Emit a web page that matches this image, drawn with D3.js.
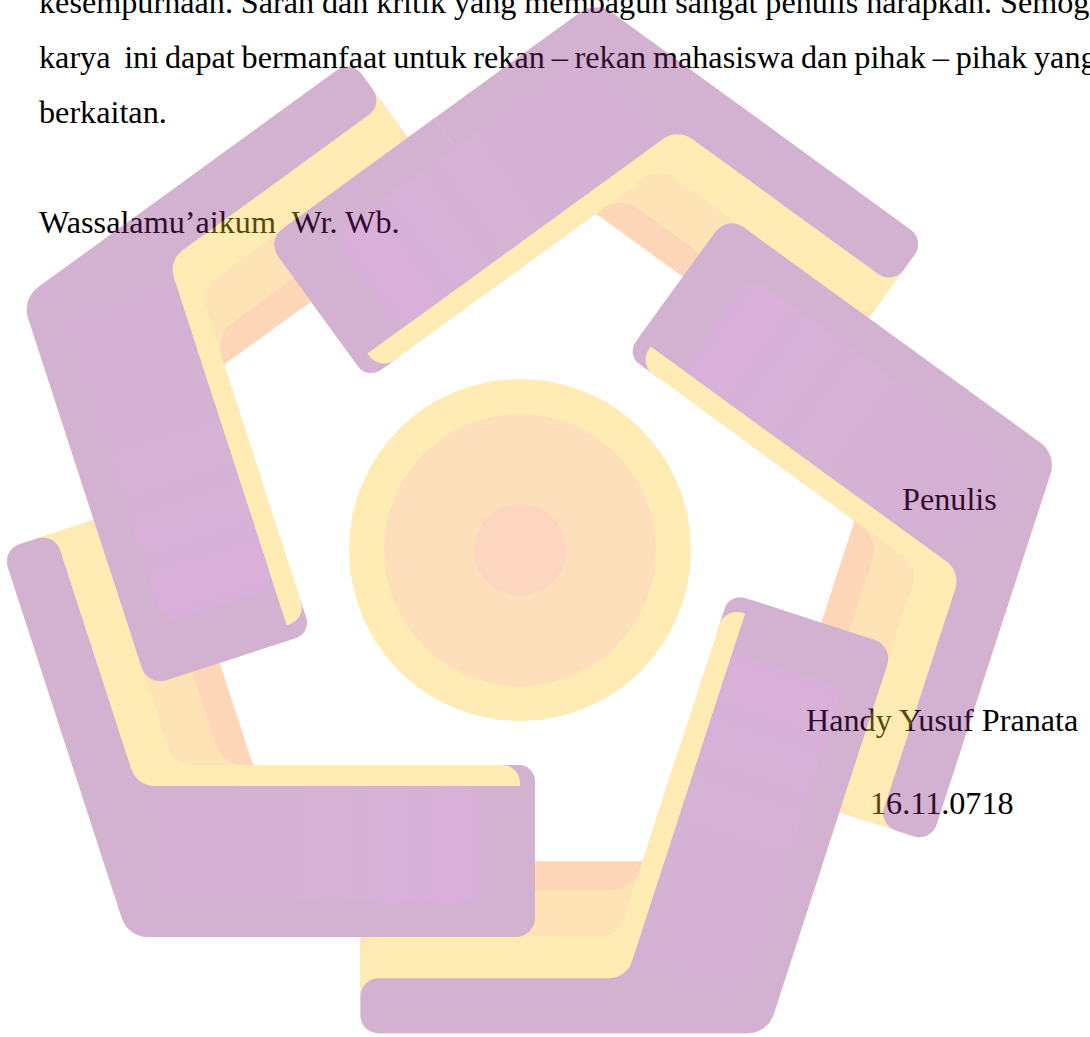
<!DOCTYPE html>
<html>
<head>
<meta charset="utf-8">
<script src="https://cdn.jsdelivr.net/npm/d3@7"></script>
<style>
  html, body { margin: 0; padding: 0; background: #fff; }
  svg { display: block; }
  text { font-family: "Liberation Serif", "Times New Roman", serif; font-size: 32.2px; fill: #000; white-space: pre; }
</style>
</head>
<body>
<div id="page"></div>
<script>
var width = 1090, height = 1037;

// page text
var bodyLines = [
	"kesempurnaan. Saran dan kritik yang membagun sangat penulis harapkan. Semoga",
	"karya  ini dapat bermanfaat untuk rekan \u2013 rekan mahasiswa dan pihak \u2013 pihak yang",
	"berkaitan."
];
var closingLine = "Wassalamu\u2019aikum  Wr. Wb.";
var signLines = ["Penulis", "Handy Yusuf Pranata", "16.11.0718"];

// watermark logo: five arms turned round the centre (degrees, in drawing order)
var armTurns = [144, 216, 288, 360, 432];
// colour bands of one arm, bottom to top
var bandNames = ["orange", "lightOrange", "yellow", "purple"];
var bandShortWidth = [172, 143, 97, 55];
var bandLongWidth = [172, 172, 172, 151];
// rings of the centre disc
var ringNames = ["yellow", "disc", "core"];
var ringRadii = [171, 136, 46];

// logo is a faded picture laid over the text, so colours are full strength + opacity
var colour = {
	purple: "rgb(129,32,124)",
	lilac: "rgb(138,35,135)",
	pink: "rgb(145,28,148)",
	yellow: "rgb(252,201,41)",
	lightOrange: "rgb(249,174,47)",
	orange: "rgb(249,135,50)",
	disc: "rgb(249,166,62)",
	core: "rgb(249,138,78)"
};

var svg = d3.select("#page").append("svg")
	.attr("width", width)
	.attr("height", height);

svg.append("rect").attr("width", width).attr("height", height).attr("fill", "#fff");

//---- text
var leftX = 39;
var bodyBase = [13, 68, 123];
var lastWordX = [1000, 1034, null]; //justified lines: where the last word starts
var textLayer = svg.append("g");

bodyLines.forEach(function(line, i){
	var t = textLayer.append("text")
		.attr("x", leftX)
		.attr("y", bodyBase[i])
		.text(line);
	if (lastWordX[i]){
		var words = line.split(" ");
		var probe = textLayer.append("text").text(words[words.length - 1]);
		var lastW = probe.node().getComputedTextLength();
		probe.remove();
		var natural = t.node().getComputedTextLength();
		var gap = (lastWordX[i] + lastW - leftX - natural) / (words.length - 1);
		t.style("word-spacing", gap + "px");
	}
});

textLayer.append("text").attr("x", leftX).attr("y", 233).text(closingLine);

var signX = [902, 806, 870];
var signBase = [510, 731, 814];
signLines.forEach(function(line, i){
	textLayer.append("text").attr("x", signX[i]).attr("y", signBase[i]).text(line);
});

//---- logo
var cx = 514, cy = 545;   //turning centre of the arms
var vx = 128, vy = 937;   //outer corner of the bottom-left arm
var legLen = 407;
var tipFrom = 200;        //where the long leg tip starts (local x)
var a108 = 108 * Math.PI / 180;
var dir = [Math.cos(a108), Math.sin(a108)];   //short leg direction (local frame, y inward)
var nrm = [Math.sin(a108), -Math.cos(a108)];  //inward normal of the short leg

function toScreen(p){ return [vx + p[0], vy - p[1]]; }

function roundedPath(pts, radii){
	var p = d3.path();
	var n = pts.length;
	p.moveTo((pts[n-1][0] + pts[0][0]) / 2, (pts[n-1][1] + pts[0][1]) / 2);
	for (var i = 0; i < n; i++){
		var cur = pts[i], nxt = pts[(i + 1) % n];
		p.arcTo(cur[0], cur[1], nxt[0], nxt[1], radii[i]);
	}
	p.closePath();
	return p.toString();
}

function localPath(pts, radii){ return roundedPath(pts.map(toScreen), radii); }

function onShortLeg(o, y){
	var s = (y - o * nrm[1]) / dir[1];
	return [s * dir[0] + o * nrm[0], y];
}

function armOutline(ws, wl, longLen, radii){
	return localPath([
		[0, 0], [longLen, 0], [longLen, wl],
		onShortLeg(ws, wl),
		[legLen * dir[0] + ws * nrm[0], legLen * dir[1] + ws * nrm[1]],
		[legLen * dir[0], legLen * dir[1]]
	], radii);
}

var defs = svg.append("defs");
var glow = defs.append("linearGradient")
	.attr("id", "glow")
	.attr("gradientUnits", "userSpaceOnUse")
	.attr("x1", vx).attr("y1", 0)
	.attr("x2", vx + legLen - 55).attr("y2", 0);
glow.append("stop").attr("offset", 0).attr("stop-color", colour.purple);
glow.append("stop").attr("offset", 0.6).attr("stop-color", colour.lilac);
glow.append("stop").attr("offset", 1).attr("stop-color", colour.pink);

var bandRadii = {
	orange: [28, 0, 0, 4, 18, 18],
	lightOrange: [28, 0, 0, 30, 18, 18],
	yellow: [28, 0, 18, 25, 18, 18],
	purple: [28, 20, 0, 25, 18, 18]
};

function endCap(g){
	g.append("path")
		.attr("d", localPath([[legLen - 40, 0], [legLen, 0], [legLen, 172], [legLen - 40, 172]], [0, 20, 16, 0]))
		.attr("fill", colour.purple);
}

function drawArm(g){
	bandNames.forEach(function(name, i){
		if (name == "yellow") endCap(g); //purple cap under the yellow stripe
		var longLen = name == "purple" ? legLen : (name == "yellow" ? legLen - 15 : 250);
		g.append("path")
			.attr("d", armOutline(bandShortWidth[i], bandLongWidth[i], longLen, bandRadii[name]))
			.attr("fill", colour[name]);
	});
	//soft lighter patch along the long leg
	g.append("path")
		.attr("d", localPath([onShortLeg(20, 35), [legLen - 55, 35], [legLen - 55, 151], onShortLeg(20, 151)], [10, 16, 16, 10]))
		.attr("fill", "url(#glow)");
}

//only the far half of the long leg
function drawTip(g){
	endCap(g);
	g.append("path")
		.attr("d", localPath([[tipFrom, 0], [legLen - 15, 0], [legLen - 15, 172], [tipFrom, 172]], [0, 0, 18, 0]))
		.attr("fill", colour.yellow);
	g.append("path")
		.attr("d", localPath([[tipFrom, 0], [legLen, 0], [legLen, 151], [tipFrom, 151]], [0, 20, 0, 0]))
		.attr("fill", colour.purple);
	g.append("path")
		.attr("d", localPath([[tipFrom, 35], [legLen - 55, 35], [legLen - 55, 151], [tipFrom, 151]], [0, 16, 16, 0]))
		.attr("fill", "url(#glow)");
}

var logo = svg.append("g").attr("opacity", 0.35);

ringNames.forEach(function(name, i){
	logo.append("circle")
		.attr("cx", 520).attr("cy", 550)
		.attr("r", ringRadii[i])
		.attr("fill", colour[name]);
});

armTurns.forEach(function(turn){
	var g = logo.append("g").attr("transform", "rotate(" + turn + "," + cx + "," + cy + ")");
	drawArm(g);
});

//the first arm's long leg lies over the last arm's short leg: draw its tip again
drawTip(logo.append("g").attr("transform", "rotate(" + armTurns[0] + "," + cx + "," + cy + ")"));
</script>
</body>
</html>
